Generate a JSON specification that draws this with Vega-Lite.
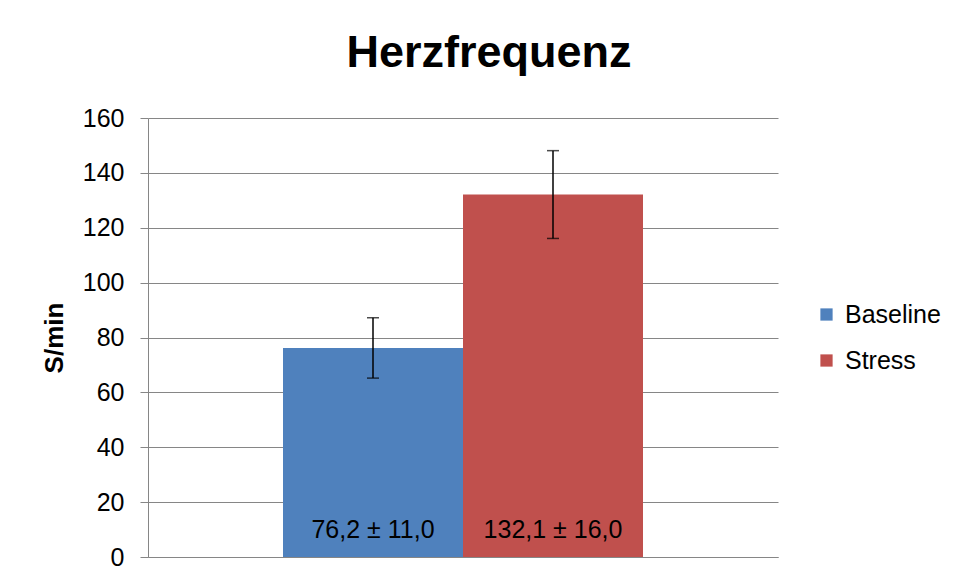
{
  "$schema": "https://vega.github.io/schema/vega-lite/v6.json",
  "autosize": "none",
  "width": 630,
  "height": 439,
  "padding": {"left": 148, "top": 118, "right": 177, "bottom": 23},
  "background": "white",
  "title": {
    "text": "Herzfrequenz",
    "font": "Liberation Sans",
    "fontSize": 45,
    "fontWeight": "bold",
    "color": "black",
    "anchor": "middle",
    "dx": 26,
    "baseline": "alphabetic",
    "offset": -6
  },
  "data": {
    "values": [
      {"series": "Baseline", "mean": 76.2, "lower": 65.2, "upper": 87.2, "label": "76,2 ± 11,0"},
      {"series": "Stress", "mean": 132.1, "lower": 116.1, "upper": 148.1, "label": "132,1 ± 16,0"}
    ]
  },
  "encoding": {
    "x": {
      "field": "series",
      "type": "nominal",
      "scale": {"paddingInner": 0, "paddingOuter": 0.75},
      "axis": {"labels": false, "ticks": false, "title": null, "domainColor": "#868686", "grid": false}
    }
  },
  "layer": [
    {
      "mark": {"type": "bar"},
      "encoding": {
        "y": {
          "field": "mean",
          "type": "quantitative",
          "scale": {"domain": [0, 160]},
          "axis": {
            "values": [0, 20, 40, 60, 80, 100, 120, 140, 160],
            "title": "S/min",
            "titleFont": "Liberation Sans",
            "titleFontSize": 26,
            "titleFontWeight": "bold",
            "titleColor": "black",
            "titlePadding": 15,
            "labelFont": "Liberation Sans",
            "labelFontSize": 25,
            "labelColor": "black",
            "labelPadding": 16,
            "tickSize": 8,
            "tickColor": "#868686",
            "domainColor": "#868686",
            "gridColor": "#868686",
            "gridOpacity": 1
          }
        },
        "color": {
          "field": "series",
          "type": "nominal",
          "scale": {"domain": ["Baseline", "Stress"], "range": ["#4F81BD", "#C0504D"]},
          "legend": {
            "title": null,
            "orient": "none",
            "legendX": 666,
            "legendY": 184,
            "symbolType": "square",
            "symbolSize": 150,
            "symbolStrokeWidth": 0,
            "symbolOpacity": 1,
            "labelFont": "Liberation Sans",
            "labelFontSize": 25,
            "labelColor": "black",
            "labelOffset": 6,
            "rowPadding": 20,
            "padding": 0
          }
        }
      }
    },
    {
      "mark": {"type": "rule", "color": "black", "strokeWidth": 1.5},
      "encoding": {
        "y": {"field": "lower", "type": "quantitative"},
        "y2": {"field": "upper"}
      }
    },
    {
      "mark": {"type": "tick", "color": "black", "size": 12, "thickness": 1.5, "orient": "horizontal"},
      "encoding": {"y": {"field": "lower", "type": "quantitative"}}
    },
    {
      "mark": {"type": "tick", "color": "black", "size": 12, "thickness": 1.5, "orient": "horizontal"},
      "encoding": {"y": {"field": "upper", "type": "quantitative"}}
    },
    {
      "mark": {"type": "text", "font": "Liberation Sans", "fontSize": 25, "color": "black", "baseline": "alphabetic", "dy": -19},
      "encoding": {
        "y": {"datum": 0, "type": "quantitative"},
        "text": {"field": "label"}
      }
    }
  ],
  "config": {
    "view": {"stroke": null},
    "axis": {"gridWidth": 1}
  }
}
